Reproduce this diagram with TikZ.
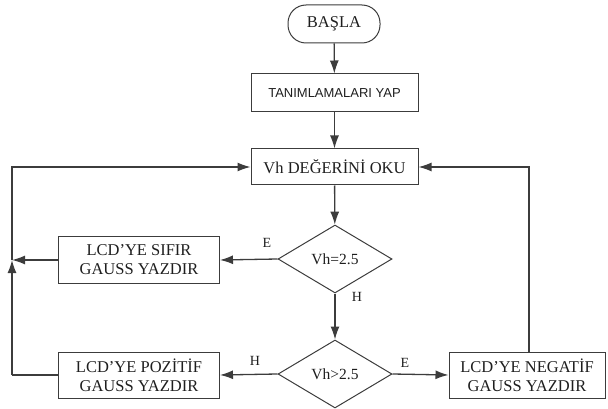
\documentclass[tikz,border=0pt]{standalone}
\usepackage{fontspec}
\setmainfont{Liberation Serif}
\newfontfamily\arialf{Liberation Sans}
\usetikzlibrary{shapes.geometric,arrows.meta}
\definecolor{ln}{HTML}{3C3C3C}
\definecolor{tx}{HTML}{1E1E1E}
\begin{document}
\begin{tikzpicture}[x=1pt,y=-1pt,
  box/.style={draw=ln,line width=1pt,rectangle,inner sep=0pt,text=tx,align=center,font=\fontsize{16.5}{19}\selectfont},
  term/.style={draw=ln,line width=1pt,rectangle,rounded corners=18pt,inner sep=0pt,text=tx,font=\fontsize{16.5}{19}\selectfont},
  dec/.style={draw=ln,line width=1pt,diamond,inner sep=0pt,minimum width=114pt,minimum height=68pt,text=tx,font=\fontsize{15.5}{18}\selectfont},
  conn/.style={draw=ln,line width=1.3pt,-{Latex[length=13pt,width=9pt]}},
  plain/.style={draw=ln,line width=1.3pt},
  lbl/.style={text=tx,font=\fontsize{14}{16}\selectfont,inner sep=0pt}]
\useasboundingbox (0,0) rectangle (608,409);
\node[term,minimum width=92pt,minimum height=38pt] (start) at (334,24) {BAŞLA};
\node[box,minimum width=167pt,minimum height=38pt,font=\arialf\fontsize{13}{15}\selectfont] (tan) at (334.5,93) {TANIMLAMALARI YAP};
\node[box,minimum width=167pt,minimum height=36pt] (read) at (334.5,167) {Vh DEĞERİNİ OKU};
\node[dec] (d1) at (335,259) {Vh=2.5};
\node[dec] (d2) at (335,374) {Vh>2.5};
\node[box,minimum width=161pt,minimum height=47pt] (zero) at (139,260) {LCD’YE SIFIR\\GAUSS YAZDIR};
\node[box,minimum width=161pt,minimum height=46pt] (pos) at (139,375) {LCD’YE POZİTİF\\GAUSS YAZDIR};
\node[box,minimum width=156pt,minimum height=46pt] (neg) at (527,375) {LCD’YE NEGATİF\\GAUSS YAZDIR};
\coordinate (jl) at (12,260);
\coordinate (tl) at (12,167);
\coordinate (bl) at (12,375);
\coordinate (tr) at (529,167);
\draw[conn] (start) -- (tan);
\draw[conn] (tan) -- (read);
\draw[conn] (read) -- (d1);
\draw[conn] (d1.west) -- (zero.east);
\draw[conn] (zero.west) -- (jl);
\draw[conn] (d1.south) -- (d2.north);
\draw[conn] (d2.west) -- (pos.east);
\draw[conn] (d2.east) -- (neg.west);
\draw[plain] (pos.west) -- (bl);
\draw[conn] (bl) -- (jl);
\draw[conn] (jl) -- (tl) -- (read.west);
\draw[conn] (neg.north -| tr) -- (tr) -- (read.east);
\node[lbl] (e1) at (267,243) {E};
\node[lbl] (h1) at (357,297) {H};
\node[lbl] (h2) at (255,361) {H};
\node[lbl] (e2) at (405,363) {E};
\end{tikzpicture}
\end{document}
